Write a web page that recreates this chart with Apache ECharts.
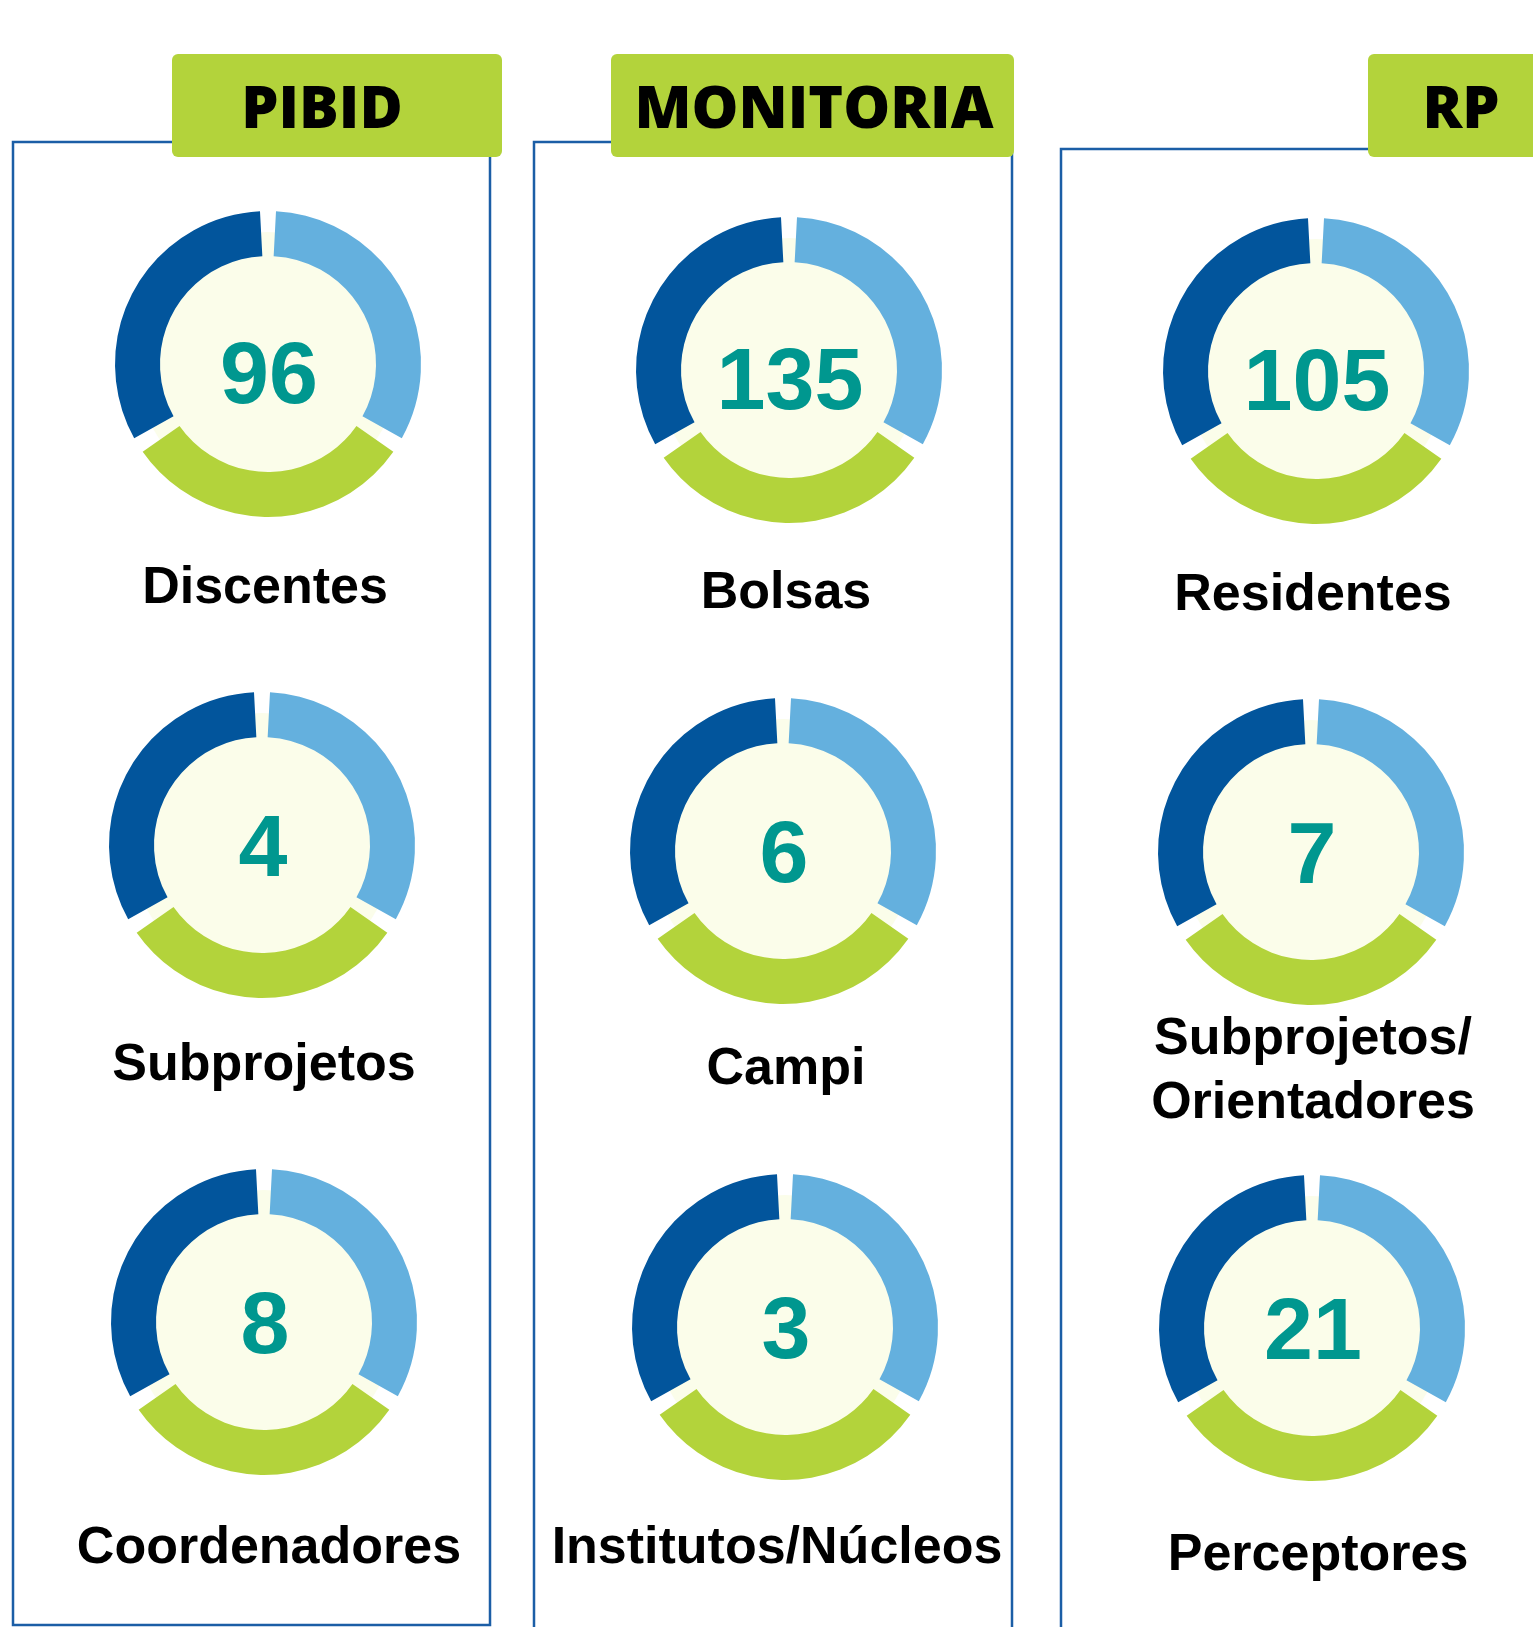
<html>
<head>
<meta charset="utf-8">
<script src="https://cdn.jsdelivr.net/npm/echarts@6/dist/echarts.min.js"></script>
<style>
    body { margin: 0; background: #fff; }
</style>
</head>
<body>
<div style="width:1533px;height:1627px" id="chartmain"></div>
<script type="text/javascript">
    // dados
    var programas = ['PIBID', 'MONITORIA', 'RP'];
    var totais = [
        [96, 4, 8],
        [135, 6, 3],
        [105, 7, 21]
    ];
    var rotulos = [
        ['Discentes', 'Subprojetos', 'Coordenadores'],
        ['Bolsas', 'Campi', 'Institutos/Núcleos'],
        ['Residentes', 'Subprojetos/\nOrientadores', 'Perceptores']
    ];
    var fatias = [122, 116, 122]; // anel decorativo (graus)
    var coresFatias = ['#64b0de', '#b3d33b', '#02559c'];

    window.onload = function () {
        // posicoes (layout)
        var centros = [
            [[268, 364], [262, 845], [264, 1322]],
            [[789, 370], [783, 851], [785, 1327]],
            [[1316, 371], [1311, 852], [1312, 1328]]
        ];
        var deslocNumero = [15, 7, 7]; // por linha
        var rotuloPos = [
            [[265, 589], [264, 1066], [269, 1549]],
            [[786, 594], [786, 1070], [777, 1549]],
            [[1313, 596], [1313, 1072], [1318, 1556]]
        ];
        var caixas = [
            { x: 13, y: 142, w: 477, h: 1483 },
            { x: 534, y: 142, w: 478, h: 1520 },
            { x: 1061, y: 149, w: 520, h: 1520 }
        ];
        var cabecalhos = [
            { x: 172, w: 330, tx: 322 },
            { x: 611, w: 403, tx: 814 },
            { x: 1368, w: 200, tx: 1461 }
        ];

        var series = [];
        var graphic = [];

        for (var p = 0; p < programas.length; p++) {
            var c = caixas[p];
            graphic.push({
                type: 'rect', z: 1,
                shape: { x: c.x, y: c.y, width: c.w, height: c.h },
                style: { fill: 'none', stroke: '#1b5ea6', lineWidth: 2.5 }
            });
            var h = cabecalhos[p];
            graphic.push({
                type: 'rect', z: 2,
                shape: { x: h.x, y: 54, width: h.w, height: 103, r: 6 },
                style: { fill: '#b3d33b' }
            });
            graphic.push({
                type: 'text', z: 3,
                x: h.tx, y: 111,
                style: {
                    text: programas[p],
                    fill: '#000',
                    font: '800 59px "Open Sans", "Noto Sans", sans-serif',
                    align: 'center', verticalAlign: 'middle'
                }
            });

            for (var i = 0; i < totais[p].length; i++) {
                var ctr = centros[p][i];
                // fundo creme + numero central
                series.push({
                    type: 'pie',
                    silent: true,
                    center: ctr,
                    radius: [0, 132],
                    z: 1,
                    itemStyle: { color: '#fbfdea' },
                    label: {
                        show: true,
                        position: 'center',
                        formatter: '{b}',
                        color: '#00978f',
                        fontFamily: '"Liberation Sans", Arial, sans-serif',
                        fontWeight: 'bold',
                        fontSize: 88,
                        offset: [1, deslocNumero[i]]
                    },
                    labelLine: { show: false },
                    data: [{ value: 1, name: String(totais[p][i]) }]
                });
                // anel
                series.push({
                    type: 'pie',
                    silent: true,
                    center: ctr,
                    radius: [108, 153],
                    startAngle: 90,
                    padAngle: 6,
                    z: 2,
                    label: { show: false },
                    labelLine: { show: false },
                    data: fatias.map(function (v, k) {
                        return { value: v, itemStyle: { color: coresFatias[k] } };
                    })
                });
                var lp = rotuloPos[p][i];
                graphic.push({
                    type: 'text', z: 3,
                    x: lp[0], y: lp[1],
                    style: {
                        text: rotulos[p][i],
                        fill: '#000',
                        font: 'bold 52px "Liberation Sans", Arial, sans-serif',
                        lineHeight: 64,
                        align: 'center', verticalAlign: 'middle'
                    }
                });
            }
        }

        var option = {
            animation: false,
            backgroundColor: '#ffffff',
            graphic: graphic,
            series: series
        };
        var myChart = echarts.init(document.getElementById('chartmain'));
        myChart.setOption(option);
    }
</script>
</body>
</html>
